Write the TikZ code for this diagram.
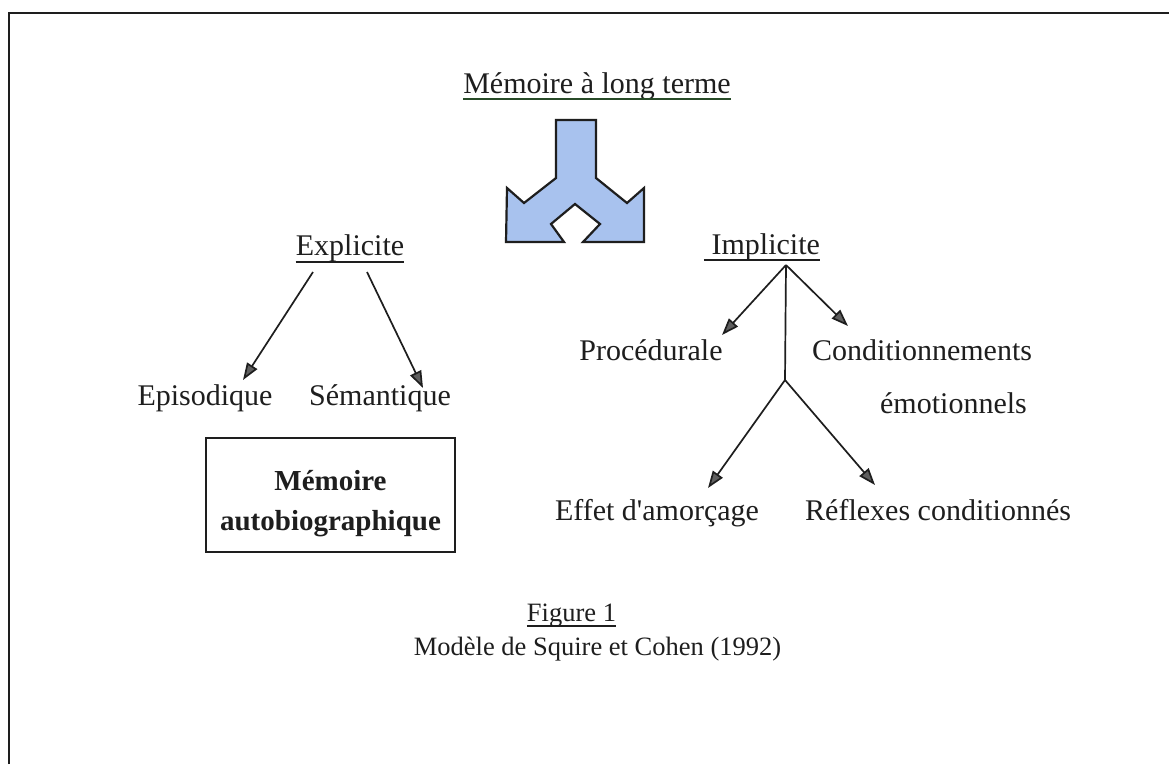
\documentclass[tikz,border=0pt]{standalone}
\usepackage{fontspec}
\setmainfont{Liberation Serif}
\usetikzlibrary{arrows.meta}
\definecolor{ink}{RGB}{30,30,30}
\definecolor{shapeblue}{RGB}{168,194,238}
\definecolor{ulgreen}{RGB}{40,75,40}
\definecolor{tipgray}{RGB}{95,95,95}
\tikzset{
  lbl/.style={inner sep=0pt, anchor=base, text=ink, font=\fontsize{30}{36}\selectfont},
  captext/.style={inner sep=0pt, anchor=base, text=ink, font=\fontsize{26.5}{32}\selectfont},
  ulstyle/.style={line width=1.4pt, draw=ink},
  conn/.style={line width=1.7pt, draw=ink, -{Triangle[length=17pt,width=12pt,fill=tipgray]}},
  plainline/.style={line width=1.7pt, draw=ink},
}
\begin{document}
\begin{tikzpicture}[x=1pt,y=-1pt]
\useasboundingbox (0,0) rectangle (1169,764);
\fill[white] (0,0) rectangle (1169,764);
% frame (top and left edges visible)
\draw[line width=2pt, ink] (9,764) -- (9,13) -- (1169,13);

% title
\node[lbl] (mlt) at (597,93) {Mémoire à long terme\ };
\draw[ulstyle, draw=ulgreen] ([yshift=-6pt]mlt.base west) -- ([yshift=-6pt]mlt.base east);

% split arrow shape
\draw[line width=2.2pt, draw=ink, fill=shapeblue, line join=miter]
  (556,120) -- (596,120) -- (596,178) -- (627,203) -- (644,188) -- (644,242)
  -- (583,242) -- (600,224) -- (575,204) -- (551,224) -- (564,242) -- (506,242)
  -- (507,188) -- (524,203) -- (556,178) -- cycle;

% explicit branch
\node[lbl] (expl) at (350,255) {Explicite};
\draw[ulstyle] ([yshift=-7pt]expl.base west) -- ([yshift=-7pt]expl.base east);
\node[lbl] (epis) at (205,405) {Episodique};
\node[lbl] (sem) at (380,405) {Sémantique};
\draw[conn] ([xshift=-37pt,yshift=-17pt]expl.base) -- ([xshift=38pt,yshift=25pt]epis.base);
\draw[conn] ([xshift=17pt,yshift=-17pt]expl.base) -- ([xshift=43pt,yshift=17pt]sem.base);

\node[draw=ink, line width=1.3pt, minimum width=249pt, minimum height=114pt,
      align=center, inner sep=0pt, text=ink,
      font=\bfseries\fontsize{29}{40}\selectfont] (auto) at (330.5,495)
  {\raisebox{0pt}[30pt][0pt]{Mémoire}\\\raisebox{0pt}[20pt][0pt]{autobiographique}};

% implicit branch
\node[lbl] (impl) at (762,254) {\ Implicite};
\draw[ulstyle] ([yshift=-6pt]impl.base west) -- ([yshift=-6pt]impl.base east);
\node[lbl] (proc) at (651,360) {Procédurale};
\node[lbl] (cond) at (922,360) {Conditionnements};
\node[lbl, anchor=base east] (emo) at (1027,413) {émotionnels};
\node[lbl] (eff) at (657,520) {Effet d\textquotesingle amorçage};
\node[lbl, anchor=base west] (refl) at (805,520) {Réflexes conditionnés};

\coordinate (apex) at (786,265);
\coordinate (fork) at (785,380);
\draw[conn] (apex) -- ([xshift=71pt,yshift=25pt]proc.base);
\draw[conn] (apex) -- ([xshift=-74pt,yshift=34pt]cond.base);
\draw[plainline] (apex) -- (fork);
\draw[conn] (fork) -- ([xshift=51pt,yshift=32pt]eff.base);
\draw[conn] (fork) -- ([xshift=70pt,yshift=35pt]refl.base west);

% caption
\node[captext] (fig) at (571.5,621) {Figure 1};
\draw[ulstyle, line width=1.1pt] ([yshift=-5pt]fig.base west) -- ([yshift=-5pt]fig.base east);
\node[captext] (model) at (597.5,655) {Modèle de Squire et Cohen (1992)};
\end{tikzpicture}
\end{document}
